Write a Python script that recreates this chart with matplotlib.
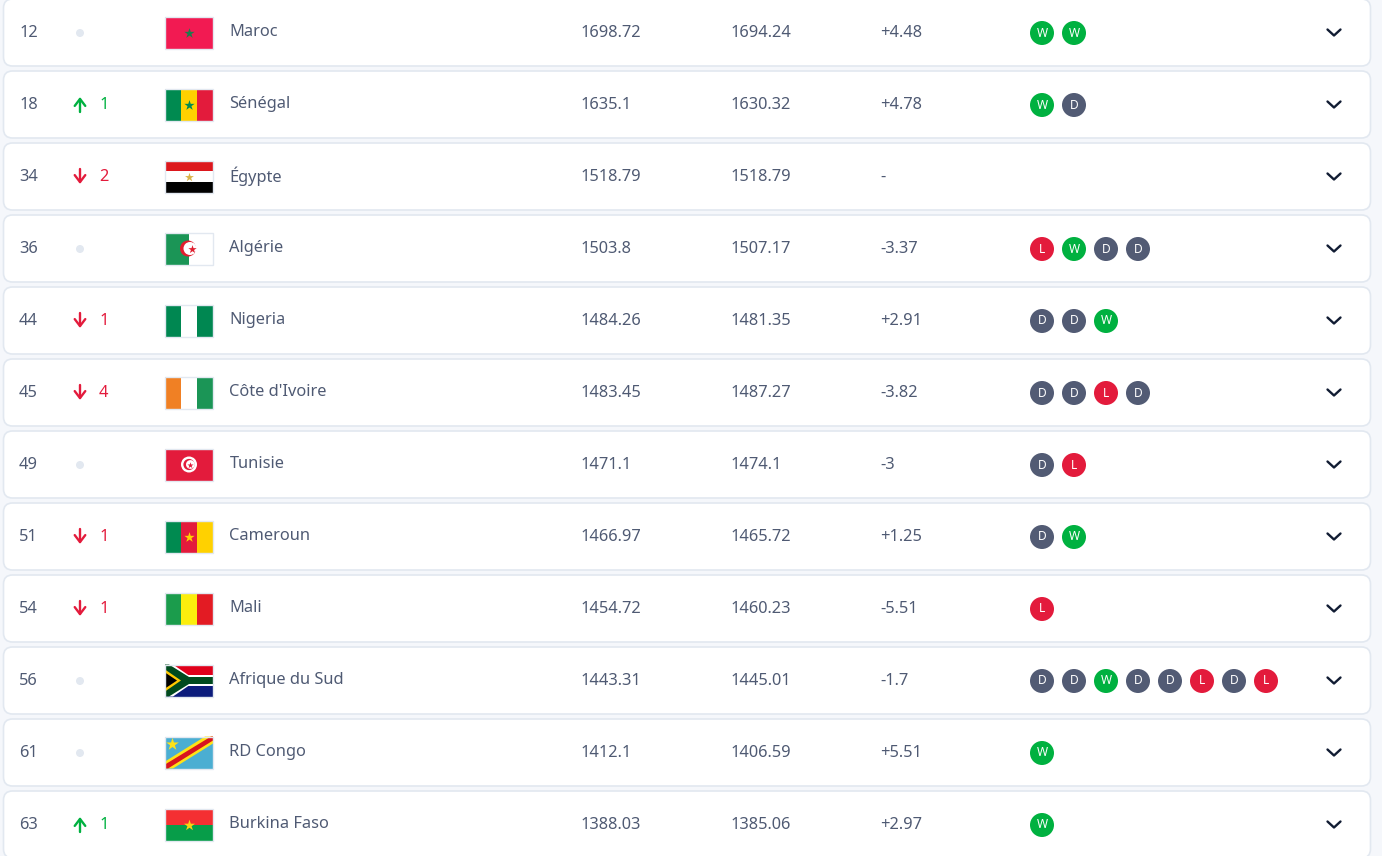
import matplotlib
matplotlib.use('Agg')
import matplotlib.pyplot as plt
from matplotlib.patches import Circle, FancyBboxPatch, Polygon, Rectangle
from matplotlib.markers import MarkerStyle

plt.rcParams['font.family'] = ['Noto Sans', 'DejaVu Sans']

ranks = [12, 18, 34, 36, 44, 45, 49, 51, 54, 56, 61, 63]
moves = [0, 1, -2, 0, -1, -4, 0, -1, -1, 0, 0, 1]
teams = ['Maroc', 'Sénégal', 'Égypte', 'Algérie', 'Nigeria', "Côte d'Ivoire",
         'Tunisie', 'Cameroun', 'Mali', 'Afrique du Sud', 'RD Congo', 'Burkina Faso']
points = ['1698.72', '1635.1', '1518.79', '1503.8', '1484.26', '1483.45',
          '1471.1', '1466.97', '1454.72', '1443.31', '1412.1', '1388.03']
previous = ['1694.24', '1630.32', '1518.79', '1507.17', '1481.35', '1487.27',
            '1474.1', '1465.72', '1460.23', '1445.01', '1406.59', '1385.06']
changes = ['+4.48', '+4.78', '-', '-3.37', '+2.91', '-3.82',
           '-3', '+1.25', '-5.51', '-1.7', '+5.51', '+2.97']
results = ['WW', 'WD', '', 'LWDD', 'DDW', 'DDLD', 'DL', 'DW', 'L', 'DDWDDLDL', 'W', 'W']

TEXT = '#4f5a73'
GREEN = '#00b140'
RED = '#e31b3c'
BORDER = '#e2e8f0'
RESULT_COLORS = {'W': GREEN, 'D': '#525b74', 'L': RED}


def stripes(ax, x, y, colors, vertical=True, widths=None):
    # flag is 48x32 px, y is the centre line of the row
    widths = widths or [1 / len(colors)] * len(colors)
    pos = 0
    for c, w in zip(colors, widths):
        if vertical:
            ax.add_patch(Rectangle((x + pos * 48, y - 16), w * 48, 32, color=c, lw=0))
        else:
            ax.add_patch(Rectangle((x, y - 16 + pos * 32), 48, w * 32, color=c, lw=0))
        pos += w


def star(ax, x, y, color, size=60):
    ax.scatter([x], [y], s=size, marker=MarkerStyle('*'), color=color, lw=0, zorder=5)


def draw_flag(ax, team, x, y):
    cx = x + 24
    if team == 'Maroc':
        stripes(ax, x, y, ['#f21a52'])
        star(ax, cx, y, '#1f7a4d')
    elif team == 'Sénégal':
        stripes(ax, x, y, ['#008a50', '#ffd100', '#e31b3c'])
        star(ax, cx, y, '#008a50')
    elif team == 'Égypte':
        stripes(ax, x, y, ['#dc171d', '#ffffff', '#000000'], vertical=False)
        star(ax, cx, y, '#d9b44a', 45)
    elif team == 'Algérie':
        stripes(ax, x, y, ['#1b9556', '#ffffff'])
        ax.add_patch(Circle((cx - 1, y), 8, color='#e01e2e', lw=0, zorder=4))
        ax.add_patch(Circle((cx + 1, y), 6.5, color='white', lw=0, zorder=4))
        star(ax, cx + 3, y, '#e01e2e', 40)
    elif team == 'Nigeria':
        stripes(ax, x, y, ['#008751', '#ffffff', '#008751'])
    elif team == "Côte d'Ivoire":
        stripes(ax, x, y, ['#f08024', '#ffffff', '#1b9556'])
    elif team == 'Tunisie':
        stripes(ax, x, y, ['#e31b3c'])
        ax.add_patch(Circle((cx, y), 8, color='white', lw=0, zorder=4))
        ax.add_patch(Circle((cx, y), 5.6, color='#e31b3c', lw=0, zorder=4))
        ax.add_patch(Circle((cx + 1.4, y), 4.4, color='white', lw=0, zorder=4))
        star(ax, cx + 1.5, y, '#e31b3c', 22)
    elif team == 'Cameroun':
        stripes(ax, x, y, ['#008a50', '#e31b3c', '#ffd100'])
        star(ax, cx, y, '#ffd100')
    elif team == 'Mali':
        stripes(ax, x, y, ['#1b9c4c', '#fcee0d', '#e31b23'])
    elif team == 'Afrique du Sud':
        stripes(ax, x, y, ['#e0001b', '#ffffff', '#0c1c7c'], vertical=False)
        ax.add_patch(Polygon([(x, y - 16), (x + 8, y - 16), (x + 24, y - 5), (x + 48, y - 5),
                              (x + 48, y + 5), (x + 24, y + 5), (x + 8, y + 16), (x, y + 16)],
                             color='white', lw=0, zorder=3))
        ax.add_patch(Polygon([(x, y - 16), (x + 4, y - 16), (x + 24, y - 3.5), (x + 48, y - 3.5),
                              (x + 48, y + 3.5), (x + 24, y + 3.5), (x + 4, y + 16), (x, y + 16)],
                             color='#004a1e', lw=0, zorder=3))
        ax.add_patch(Polygon([(x, y - 11), (x + 16, y), (x, y + 11)], color='#ffc800', lw=0, zorder=4))
        ax.add_patch(Polygon([(x, y - 8), (x + 12, y), (x, y + 8)], color='black', lw=0, zorder=4))
    elif team == 'RD Congo':
        stripes(ax, x, y, ['#4baed2'])
        ax.add_patch(Polygon([(x, y + 9), (x + 40, y - 16), (x + 48, y - 16), (x + 48, y - 9),
                              (x + 8, y + 16), (x, y + 16)], color='#ffe216', lw=0, zorder=3))
        ax.add_patch(Polygon([(x, y + 12), (x + 46, y - 16), (x + 48, y - 16), (x + 48, y - 12),
                              (x + 3, y + 16), (x, y + 16)], color='#d8141e', lw=0, zorder=4))
        star(ax, x + 7, y - 9, '#ffe216', 90)
    elif team == 'Burkina Faso':
        stripes(ax, x, y, ['#f42f32', '#079d49'], vertical=False)
        star(ax, cx, y, '#fcd116', 70)
    ax.add_patch(Rectangle((x, y - 16), 48, 32, fill=False, ec=BORDER, lw=1, zorder=6))


fig = plt.figure(figsize=(13.82, 8.56), dpi=100, facecolor='#f5f7fb')
ax = fig.add_axes([0, 0, 1, 1])
ax.set_xlim(0, 1382)
ax.set_ylim(856, 0)
ax.axis('off')

for i, team in enumerate(teams):
    y = 32.5 + 72 * i
    ax.add_patch(FancyBboxPatch((3.5, y - 33.5), 1367, 67, boxstyle='round,pad=0,rounding_size=9',
                                fc='white', ec=BORDER, lw=1.2, zorder=1))
    ax.text(19, y + 0.5, str(ranks[i]), fontsize=11.8, fontweight='semibold', color=TEXT, va='center', zorder=7)

    move = moves[i]
    if move == 0:
        ax.add_patch(Circle((80, y + 0.5), 4, color=BORDER, lw=0, zorder=3))
    else:
        col = GREEN if move > 0 else RED
        tip, tail = (y - 7.5, y + 7.5) if move > 0 else (y + 7.5, y - 7.5)
        ax.annotate('', xy=(80, tip), xytext=(80, tail), zorder=3,
                    arrowprops=dict(arrowstyle='->,head_width=0.38,head_length=0.5', color=col,
                                    lw=1.7, shrinkA=0, shrinkB=0))
        ax.text(99, y + 0.5, str(abs(move)), fontsize=11.8, fontweight='semibold', color=col, va='center', zorder=7)

    draw_flag(ax, team, 165, y)
    ax.text(229.5, y - 0.5, team, fontsize=11.8, fontweight='semibold', color=TEXT, va='center', zorder=7)
    ax.text(580, y + 0.5, points[i], fontsize=11.8, fontweight='bold', color=TEXT, va='center', zorder=7)
    ax.text(730, y + 0.5, previous[i], fontsize=11.8, color=TEXT, va='center', zorder=7)
    ax.text(880, y + 0.5, changes[i], fontsize=11.8, color=TEXT, va='center', zorder=7)

    for j, r in enumerate(results[i]):
        bx = 1042 + 32 * j
        ax.add_patch(Circle((bx, y + 0.5), 12, color=RESULT_COLORS[r], lw=0, zorder=3))
        ax.text(bx, y + 0.5, r, fontsize=8.6, fontweight='bold', color='white', ha='center', va='center', zorder=7)

    # chevron
    ax.plot([1327.5, 1334, 1340.5], [y - 3, y + 3, y - 3], color='#111c33', lw=1.7,
            solid_capstyle='round', solid_joinstyle='round', zorder=3)

fig.savefig('out.png', dpi=100, facecolor=fig.get_facecolor())
